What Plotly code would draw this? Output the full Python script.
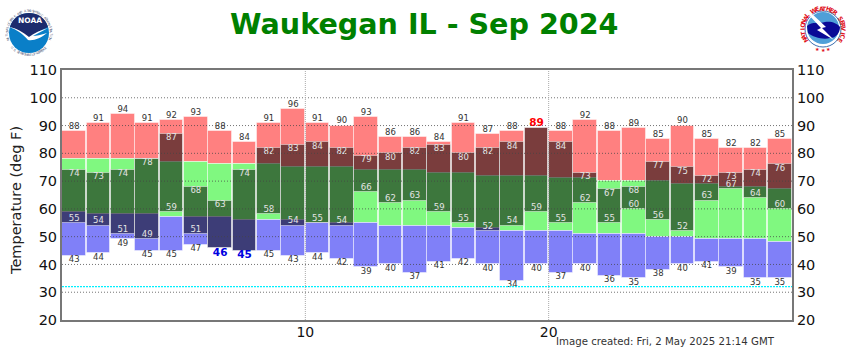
import math
import plotly.graph_objects as go

days = list(range(1, 31))
record_high = [88, 91, 94, 91, 92, 93, 88, 84, 91, 96, 91, 90, 93, 86, 86, 84, 91, 87, 88, 89, 88, 92, 88, 89, 85, 90, 85, 82, 82, 85]
normal_high = [78, 78, 78, 78, 77, 77, 76, 76, 76, 75, 75, 75, 74, 74, 74, 73, 73, 72, 72, 72, 71, 71, 70, 70, 70, 69, 69, 68, 68, 67]
normal_low = [59, 58, 58, 58, 57, 57, 57, 56, 56, 56, 55, 55, 55, 54, 54, 54, 53, 53, 52, 52, 52, 51, 51, 51, 50, 50, 49, 49, 49, 48]
record_low = [43, 44, 49, 45, 45, 47, 46, 45, 45, 43, 44, 42, 39, 40, 37, 41, 42, 40, 34, 40, 37, 40, 36, 35, 38, 40, 41, 39, 35, 35]
obs_high = [74, 73, 74, 78, 87, 68, 63, 74, 82, 83, 84, 82, 79, 80, 82, 83, 80, 82, 84, 89, 84, 73, 67, 68, 77, 75, 72, 73, 74, 76]
obs_low = [55, 54, 51, 49, 59, 51, 46, 45, 58, 54, 55, 54, 66, 62, 63, 59, 55, 52, 54, 59, 55, 62, 55, 60, 56, 52, 63, 67, 64, 60]
y_ticks = list(range(20, 120, 10))
x_ticks = [10, 20]
freezing = 32

title_text = "Waukegan IL - Sep 2024"
footer_text = "Image created: Fri, 2 May 2025 21:14 GMT"
noaa_ring_top = "NATIONAL OCEANIC AND ATMOSPHERIC ADMINISTRATION"
noaa_ring_bottom = "U.S. DEPARTMENT OF COMMERCE"
nws_ring_top = "NATIONAL WEATHER SERVICE"

FONT = "DejaVu Sans"
L, R, T, B = 62, 792, 70, 320
xs = [d - 0.5 for d in days]


def px(x):
    return (x - L) / (R - L)


def py(y):
    return 1 - (y - T) / (B - T)


def bar(top, bottom, color):
    return go.Bar(
        x=xs, y=[t - b for t, b in zip(top, bottom)], base=bottom, width=0.96,
        marker=dict(color=color, line=dict(color="rgba(255,255,255,0.45)", width=1)),
        hoverinfo="skip", showlegend=False,
    )


fig = go.Figure()
fig.add_trace(bar(record_high, normal_high, "#ff8080"))
fig.add_trace(bar(normal_high, normal_low, "#80f880"))
fig.add_trace(bar(normal_low, record_low, "#8080f8"))
fig.add_trace(bar(obs_high, obs_low, "rgba(0,0,0,0.52)"))

# record labels outside the bars, a tied record gets the big coloured label
fig.add_trace(go.Scatter(
    x=xs, y=record_high, mode="text", text=[str(v) for v in record_high],
    textposition="top center", cliponaxis=False, showlegend=False, hoverinfo="skip",
    marker=dict(size=1),
    textfont=dict(family=FONT,
                  size=[10.5 if o >= r else 8.5 for o, r in zip(obs_high, record_high)],
                  color=["#ff0000" if o >= r else "#333333" for o, r in zip(obs_high, record_high)],
                  weight=[700 if o >= r else 400 for o, r in zip(obs_high, record_high)]),
))
fig.add_trace(go.Scatter(
    x=xs, y=record_low, mode="text", text=[str(v) for v in record_low], yaxis="y2",
    textposition="bottom center", cliponaxis=False, showlegend=False, hoverinfo="skip",
    marker=dict(size=1),
    textfont=dict(family=FONT,
                  size=[10.5 if o <= r else 8.5 for o, r in zip(obs_low, record_low)],
                  color=["#0000e0" if o <= r else "#333333" for o, r in zip(obs_low, record_low)],
                  weight=[700 if o <= r else 400 for o, r in zip(obs_low, record_low)]),
))
# observed labels sit inside the dark bar
fig.add_trace(go.Scatter(
    x=xs, y=obs_high, mode="text", textposition="bottom center", showlegend=False, hoverinfo="skip",
    marker=dict(size=1),
    text=["" if o >= r else str(o) for o, r in zip(obs_high, record_high)],
    textfont=dict(family=FONT, size=8.5, color="#e4e4e4"),
))
fig.add_trace(go.Scatter(
    x=xs, y=obs_low, mode="text", textposition="top center", showlegend=False, hoverinfo="skip",
    marker=dict(size=1),
    text=["" if o <= r else str(o) for o, r in zip(obs_low, record_low)],
    textfont=dict(family=FONT, size=8.5, color="#e4e4e4"),
))

shapes = []
for t in y_ticks[1:-1]:
    shapes.append(dict(type="line", xref="paper", x0=0, x1=1, y0=t, y1=t, layer="above",
                       line=dict(color="rgba(70,70,70,0.75)", width=1, dash="1px,2px")))
for t in x_ticks:
    shapes.append(dict(type="line", yref="paper", y0=0, y1=1, x0=t, x1=t, layer="above",
                       line=dict(color="#aaaaaa", width=1, dash="1px,1px")))
shapes.append(dict(type="line", xref="paper", x0=0, x1=1, y0=freezing, y1=freezing, layer="above",
                   line=dict(color="#00f0ff", width=1.4, dash="2px,1px")))


def circle(cx, cy, r, fill, line=None, width=0):
    shapes.append(dict(type="circle", xref="paper", yref="paper", x0=px(cx - r), x1=px(cx + r),
                       y0=py(cy + r), y1=py(cy - r), fillcolor=fill, layer="above",
                       line=dict(color=line or fill, width=width)))


def path(d, fill):
    # d is a list of (command, pixel x, pixel y, ...) pieces
    out = []
    for piece in d:
        out.append(piece[0] + " ".join(f"{px(piece[i]):.5f},{py(piece[i + 1]):.5f}" for i in range(1, len(piece), 2)))
    shapes.append(dict(type="path", xref="paper", yref="paper", path=" ".join(out) + " Z",
                       fillcolor=fill, layer="above", line=dict(width=0)))


def label(text, x, y, size, color, weight=400, angle=0, xanchor="center"):
    return dict(text=text, xref="paper", yref="paper", x=px(x), y=py(y), showarrow=False,
                xanchor=xanchor, yanchor="middle", textangle=angle, borderpad=0, borderwidth=0,
                font=dict(family=FONT, size=size, color=color, weight=weight))


annotations = [
    label(title_text, 424, 24, 28.6, "#008000", 700),
    label("Temperature (deg F)", 16, 201, 14.5, "#222222", angle=-90),
    label(footer_text, 775, 341, 10.2, "#333333", xanchor="right"),
]


def ring(text, cx, cy, r, start, end, size, color, weight=400):
    # one rotated annotation per letter, angles in degrees clockwise from the top
    n = len(text)
    for i, ch in enumerate(text):
        a = start + (end - start) * (i + 0.5) / n
        rad = math.radians(a)
        rot = a if end > start else a + 180
        annotations.append(label(ch, cx + r * math.sin(rad), cy - r * math.cos(rad), size, color, weight, rot))


# NOAA logo
circle(29, 33, 20, "#0a7fc8")
path([("M", 10, 27), ("C", 13, 17, 21, 13, 29, 13), ("C", 37, 13, 45, 17, 48, 27),
      ("C", 42, 30, 35, 33, 29, 38), ("C", 23, 33, 16, 29, 10, 27)], "#1c2b6e")
path([("M", 9, 27), ("C", 16, 29, 23, 34, 28, 40), ("C", 34, 41, 41, 38, 47, 33),
      ("C", 41, 35, 36, 36, 33, 36), ("L", 48, 28), ("C", 41, 30, 34, 33, 29, 37),
      ("C", 23, 32, 16, 28, 9, 27)], "#ffffff")
annotations.append(label("NOAA", 29.5, 20.5, 7.5, "#ffffff", 700))
ring(noaa_ring_top, 29, 33, 22, -110, 110, 3.2, "#56607c")
ring(noaa_ring_bottom, 29, 33, 22, 230, 130, 3.2, "#56607c")

# NWS logo
circle(823, 29, 18, "#ffffff", "#3c6fb0", 1)
circle(823, 28, 16, "#4f9fd8")
path([("M", 807, 26), ("C", 812, 21, 820, 24, 825, 22), ("C", 831, 21, 837, 23, 840, 27),
      ("C", 840, 33, 836, 38, 830, 38), ("C", 823, 40, 813, 37, 808, 33)], "#0a0a96")
path([("M", 810, 12), ("L", 826, 27), ("L", 822, 28), ("L", 834, 40), ("L", 817, 30),
      ("L", 821, 28), ("L", 808, 14)], "#ffffff")
ring(nws_ring_top, 823, 29, 21, -128, 128, 6, "#e01020", 700)
for a in [165, 180, 195]:
    annotations.append(label("★", 823 + 21 * math.sin(math.radians(a)), 29 - 21 * math.cos(math.radians(a)),
                             5, "#e01020"))

axis_line = dict(showline=True, linecolor="#777777", linewidth=2)
fig.update_layout(
    width=850, height=350, margin=dict(l=L, r=850 - R, t=T, b=350 - B, autoexpand=False),
    plot_bgcolor="#ffffff", paper_bgcolor="#ffffff", barmode="overlay", bargap=0,
    font=dict(family=FONT, color="#111111", size=14),
    xaxis=dict(range=[0, 30], tickvals=x_ticks, showgrid=False, zeroline=False, ticks="",
               tickfont=dict(size=14), ticklabelstandoff=-2, mirror=True, **axis_line),
    yaxis=dict(range=[20, 110], tickvals=y_ticks, showgrid=False, zeroline=False, ticks="",
               tickfont=dict(size=14.5), **axis_line),
    yaxis2=dict(range=[20, 110], tickvals=y_ticks, overlaying="y", side="right", showgrid=False,
                zeroline=False, ticks="", tickfont=dict(size=14.5), **axis_line),
    shapes=shapes, annotations=annotations,
)

fig.write_html("out.html", post_script="document.body.style.margin='0';",
               config={"displayModeBar": False})
